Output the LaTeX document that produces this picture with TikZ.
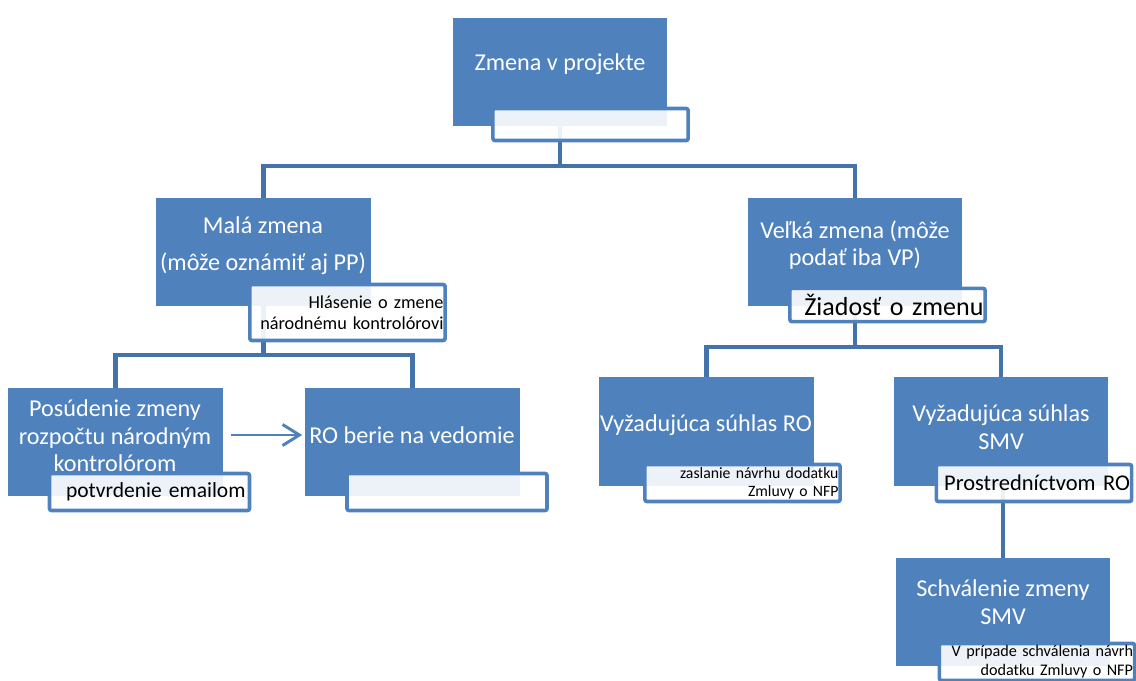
\documentclass[tikz,border=0pt]{standalone}
\usepackage{fontspec}
\setmainfont{Carlito}
\usepackage{tikz}
\usetikzlibrary{backgrounds,positioning,arrows.meta}
\definecolor{boxblue}{RGB}{79,129,189}
\definecolor{linkblue}{RGB}{68,114,170}

\begin{document}
\begin{tikzpicture}[x=0.025cm,y=-0.025cm,
  box/.style={fill=boxblue,minimum width=5.35cm,minimum height=2.7cm,inner sep=0},
  btext/.style={text=white,align=center,inner sep=0,font=\fontsize{17.2}{19.5}\selectfont},
  lbl/.style={draw=boxblue,line width=2.6pt,rounded corners=1.5pt,fill=white,fill opacity=0.9,text opacity=1,
    minimum width=4.88cm,minimum height=0.925cm,text width=4.8cm,inner xsep=0.02cm,inner ysep=0,align=right},
  conn/.style={draw=linkblue,line width=3pt},
  arr/.style={draw=boxblue,line width=2.1pt,-{Straight Barb[length=12pt,width=15pt]}}]
\useasboundingbox (0,0) rectangle (1136,680);
\clip (0,0) rectangle (1136,680);

\node[box] (top) at (560,72) {};
\node[box] (mala) at (263.5,252) {};
\node[box] (velka) at (855,252) {};
\node[box] (posud) at (115.5,442) {};
\node[box] (rober) at (412.5,442) {};
\node[box] (vyzro) at (706.5,431.5) {};
\node[box] (vyzsmv) at (1001,431.5) {};
\node[box] (schv) at (1003,612) {};

\node[btext] (topt) at (560,64) {Zmena v projekte};
\node[btext] (malat) at (263,246) {Malá zmena\\[7pt](môže oznámiť aj PP)};
\node[btext] (velkat) at (855,245) {Veľká zmena (môže\\podať iba VP)};
\node[btext] (posudt) at (115,436) {Posúdenie zmeny\\rozpočtu národným\\kontrolórom};
\node[btext] (robert) at (412,435) {RO berie na vedomie};
\node[btext] (vyzrot) at (706,425) {Vyžadujúca súhlas RO};
\node[btext] (vyzsmvt) at (1001,427) {Vyžadujúca súhlas\\SMV};
\node[btext] (schvt) at (1003,602) {Schválenie zmeny\\SMV};

\node[lbl,minimum height=0.8cm] (topl) at (590.5,124.5) {};
\node[lbl,minimum height=1.4cm,font=\fontsize{13}{15}\selectfont] (malal) at (347.5,312.5) {Hlásenie o zmene\\národnému kontrolórovi};
\node[lbl,minimum height=0.83cm,font=\fontsize{18.5}{20}\selectfont] (velkal) at (887.5,305) {Žiadosť o zmenu};
\node[lbl,minimum width=5cm,font=\fontsize{15.3}{17}\selectfont] (posudl) at (149.5,492) {potvrdenie emailom};
\node[lbl,minimum width=5cm] (roberl) at (447,492) {};
\node[lbl,font=\fontsize{11.2}{12.5}\selectfont] (vyzrol) at (742.5,483) {zaslanie návrhu dodatku\\Zmluvy o NFP};
\node[lbl,font=\fontsize{16}{18}\selectfont] (vyzsmvl) at (1034,483) {Prostredníctvom RO};
\node[lbl,font=\fontsize{11.5}{13.5}\selectfont] (schvl) at (1037,662) {V prípade schválenia návrh\\dodatku Zmluvy o NFP};

% spojnice
\begin{scope}[on background layer]
\coordinate (j1) at (560,166);
\coordinate (j2) at (263.5,355);
\coordinate (j3) at (855,347);
\draw[conn] (top.south) -- (j1) -| (mala.north);
\draw[conn] (j1) -| (velka.north);
\draw[conn] (mala.south) -- (j2) -| (posud.north);
\draw[conn] (j2) -| (rober.north);
\draw[conn] (velka.south) -- (j3) -| (vyzro.north);
\draw[conn] (j3) -| (vyzsmv.north);
\draw[conn] (schv.north |- vyzsmv.south) -- (schv.north);
\end{scope}

\draw[arr] ([shift={(8,-7)}]posud.east) -- ([shift={(-3,-7)}]rober.west);

\end{tikzpicture}
\end{document}
